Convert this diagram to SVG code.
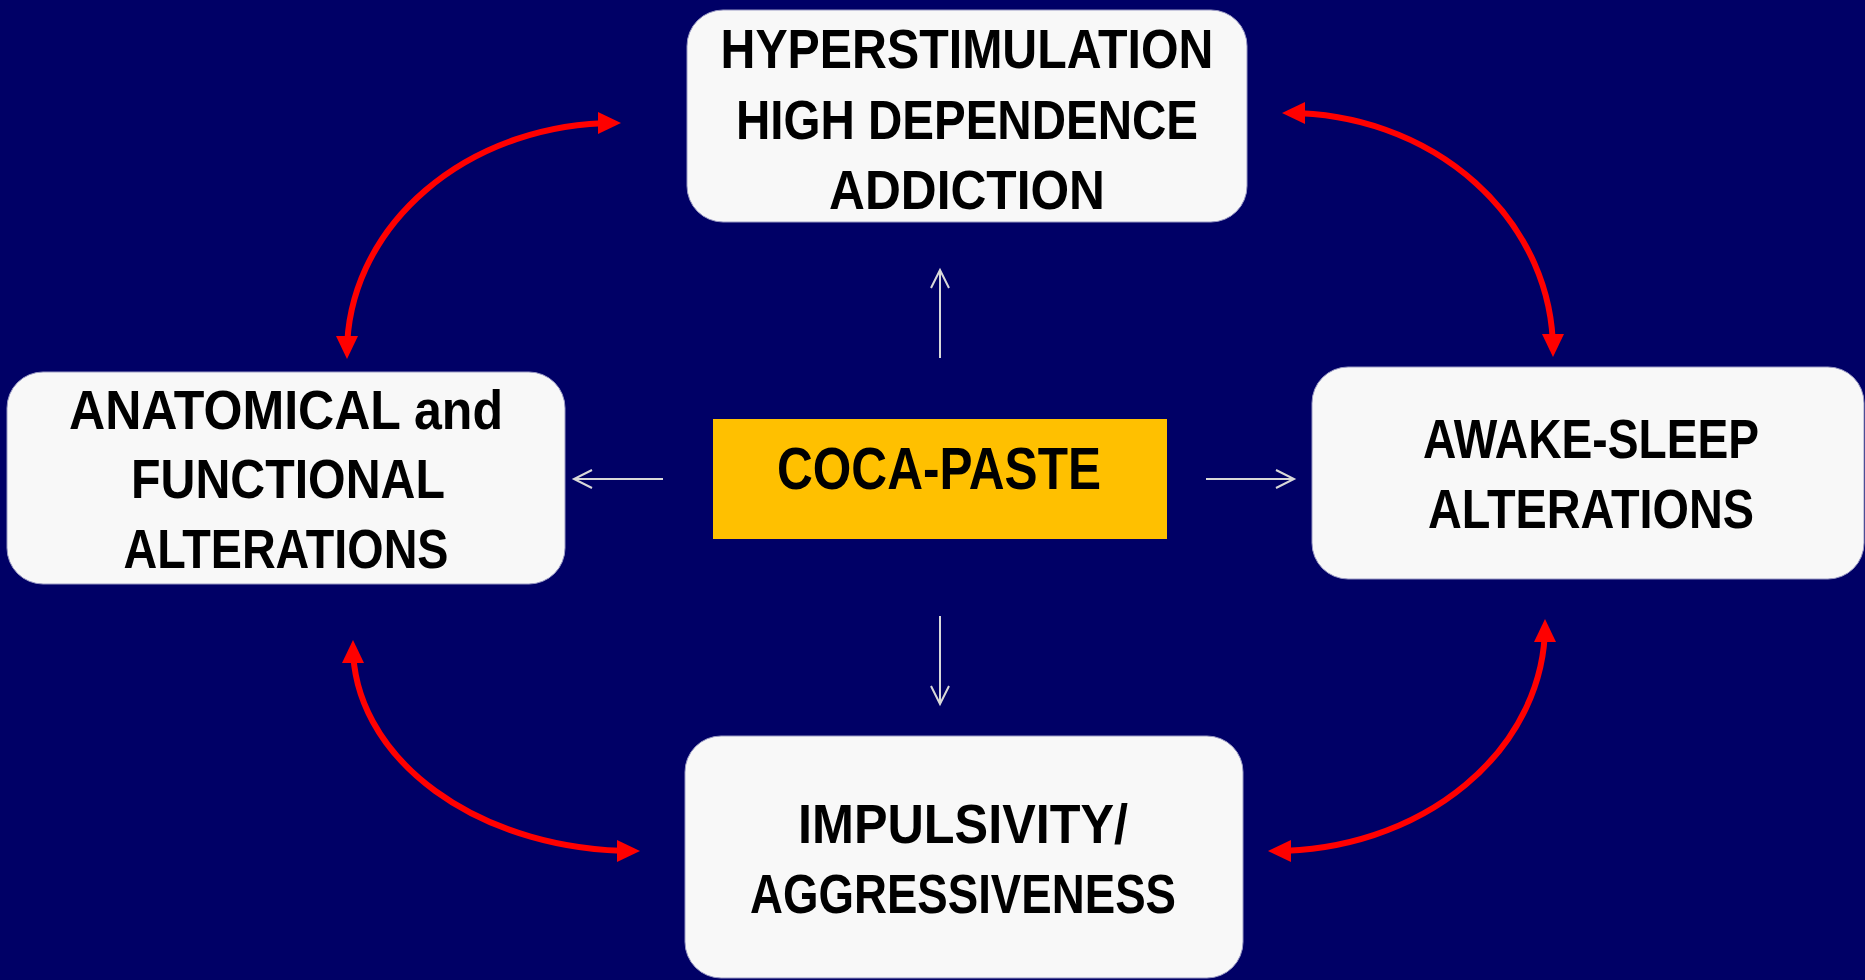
<svg xmlns="http://www.w3.org/2000/svg" width="1865" height="980" viewBox="0 0 1865 980">
<style>
.box{fill:#F8F8F8;stroke:#9a9ac4;stroke-width:1}
.t{font-family:"Liberation Sans",Arial,sans-serif;font-weight:bold;font-size:56px;fill:#000;text-anchor:middle}
.red{fill:none;stroke:#FF0000;stroke-width:6;marker-start:url(#rh);marker-end:url(#rh)}
.gray{fill:none;stroke:#D9D9D9;stroke-width:2;marker-end:url(#gh)}
</style>
<defs>
<marker id="rh" markerUnits="userSpaceOnUse" markerWidth="23" markerHeight="22" refX="17" refY="11" orient="auto-start-reverse">
<path d="M0,0 L23,11 L0,22 Z" fill="#FF0000"/>
</marker>
<marker id="gh" markerUnits="userSpaceOnUse" markerWidth="22" markerHeight="22" refX="19" refY="10" orient="auto">
<path d="M1,1 L19,10 L1,19" fill="none" stroke="#D9D9D9" stroke-width="2"/>
</marker>
</defs>
<rect width="1865" height="980" fill="#000066"/>
<g id="connectors">
<path class="red" d="M347,353 A268,230 0 0 1 615,123"/>
<path class="red" d="M1288,113 A265,238 0 0 1 1553,351"/>
<path class="red" d="M353,646 A281,205 0 0 0 634,851"/>
<path class="red" d="M1274,851 A271,226 0 0 0 1545,625"/>
<path class="gray" d="M940,358 L940,270"/>
<path class="gray" d="M663,479 L574,479"/>
<path class="gray" d="M1206,479 L1294,479"/>
<path class="gray" d="M940,616 L940,704"/>
</g>
<g id="node-top">
<rect class="box" x="687" y="10" width="560" height="212" rx="36" ry="36"/>
<text class="t" x="967" y="68" textLength="493" lengthAdjust="spacingAndGlyphs">HYPERSTIMULATION</text>
<text class="t" x="967" y="139" textLength="462" lengthAdjust="spacingAndGlyphs">HIGH DEPENDENCE</text>
<text class="t" x="967" y="209" textLength="276" lengthAdjust="spacingAndGlyphs">ADDICTION</text>
</g>
<g id="node-left">
<rect class="box" x="7" y="372" width="558" height="212" rx="36" ry="36"/>
<text class="t" x="286" y="429" textLength="434" lengthAdjust="spacingAndGlyphs">ANATOMICAL and</text>
<text class="t" x="288" y="498" textLength="314" lengthAdjust="spacingAndGlyphs">FUNCTIONAL</text>
<text class="t" x="286" y="568" textLength="325" lengthAdjust="spacingAndGlyphs">ALTERATIONS</text>
</g>
<g id="node-right">
<rect class="box" x="1312" y="367" width="552" height="212" rx="36" ry="36"/>
<text class="t" x="1591" y="458" textLength="336" lengthAdjust="spacingAndGlyphs">AWAKE-SLEEP</text>
<text class="t" x="1591" y="528" textLength="326" lengthAdjust="spacingAndGlyphs">ALTERATIONS</text>
</g>
<g id="node-bottom">
<rect class="box" x="685" y="736" width="558" height="242" rx="36" ry="36"/>
<text class="t" x="963" y="843" textLength="330" lengthAdjust="spacingAndGlyphs">IMPULSIVITY/</text>
<text class="t" x="963" y="913" textLength="426" lengthAdjust="spacingAndGlyphs">AGGRESSIVENESS</text>
</g>
<g id="node-center">
<rect x="713" y="419" width="454" height="120" fill="#FFC000"/>
<text class="t" x="939" y="489" style="font-size:59px" textLength="324" lengthAdjust="spacingAndGlyphs">COCA-PASTE</text>
</g>
</svg>
